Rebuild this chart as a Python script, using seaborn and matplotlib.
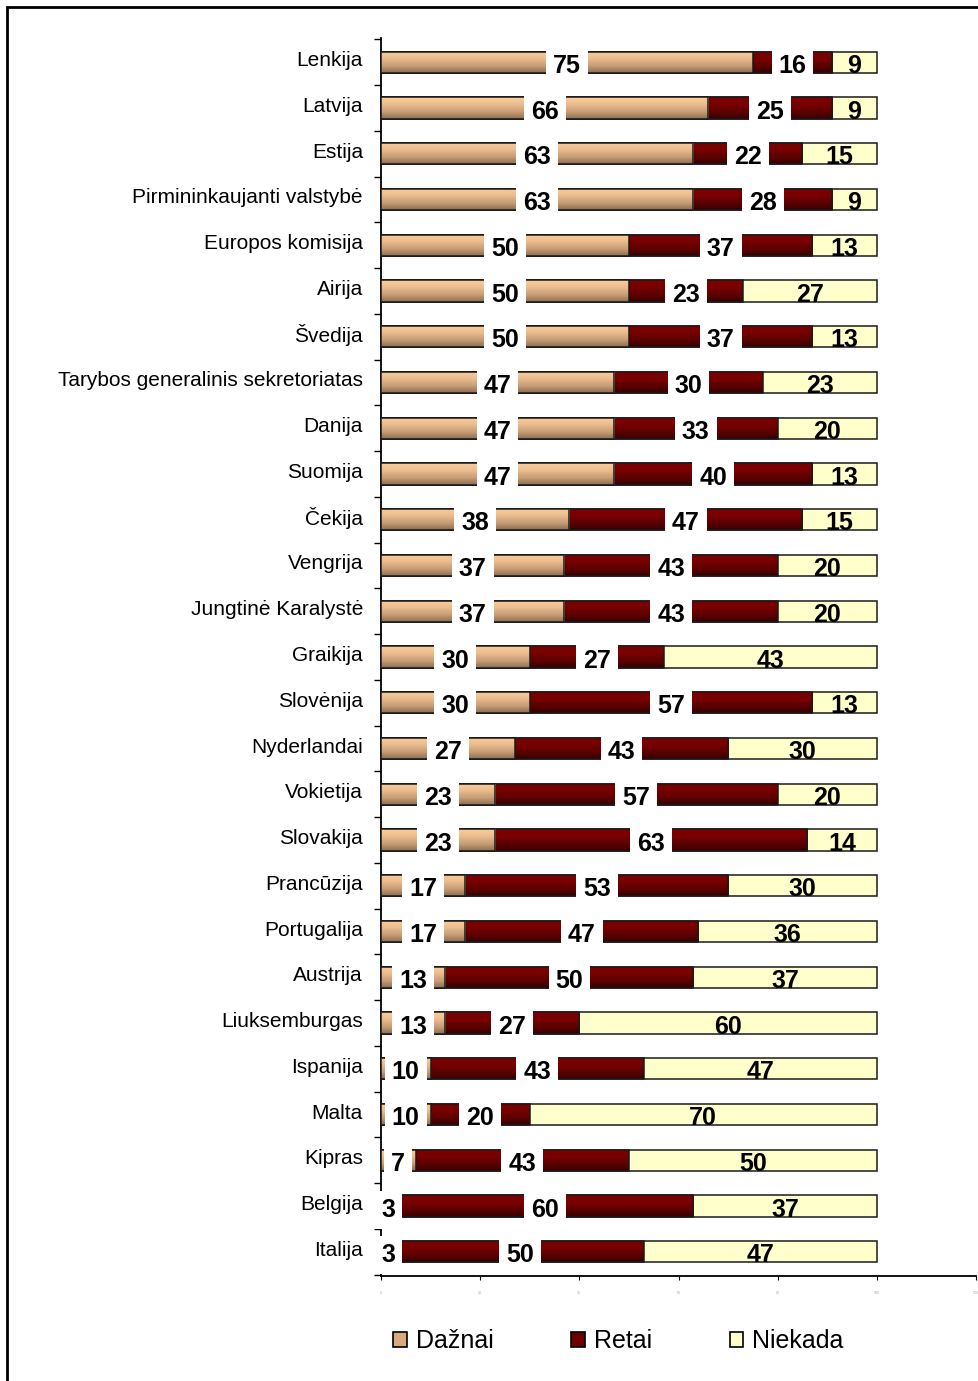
import numpy as np
import pandas as pd
import matplotlib
matplotlib.use("Agg")
import matplotlib.pyplot as plt
import seaborn as sns
from matplotlib.colors import LinearSegmentedColormap
from matplotlib.patches import Patch, Rectangle
from matplotlib.transforms import ScaledTranslation

countries = [
    "Lenkija", "Latvija", "Estija", "Pirmininkaujanti valstybė", "Europos komisija",
    "Airija", "Švedija", "Tarybos generalinis sekretoriatas", "Danija", "Suomija",
    "Čekija", "Vengrija", "Jungtinė Karalystė", "Graikija", "Slovėnija",
    "Nyderlandai", "Vokietija", "Slovakija", "Prancūzija", "Portugalija",
    "Austrija", "Liuksemburgas", "Ispanija", "Malta", "Kipras", "Belgija", "Italija",
]
daznai = [75, 66, 63, 63, 50, 50, 50, 47, 47, 47, 38, 37, 37, 30, 30, 27, 23, 23,
          17, 17, 13, 13, 10, 10, 7, 3, 3]
retai = [16, 25, 22, 28, 37, 23, 37, 30, 33, 40, 47, 43, 43, 27, 57, 43, 57, 63,
         53, 47, 50, 27, 43, 20, 43, 60, 50]
niekada = [9, 9, 15, 9, 13, 27, 13, 23, 20, 13, 15, 20, 20, 43, 13, 30, 20, 14,
           30, 36, 37, 60, 47, 70, 50, 37, 47]
series_names = ["Dažnai", "Retai", "Niekada"]
x_ticks = [0, 20, 40, 60, 80, 100, 120]

sns.set_style("white")
plt.rcParams["font.family"] = ["Liberation Sans", "DejaVu Sans"]
plt.rcParams["text.color"] = "black"
plt.rcParams["axes.edgecolor"] = "black"
plt.rcParams["xtick.color"] = "black"
plt.rcParams["ytick.color"] = "black"

W, H = 979, 1381
fig = plt.figure(figsize=(W / 100, H / 100), dpi=100)
ax = fig.add_axes([381 / W, 1 - 1276 / H, (976 - 381) / W, (1276 - 38) / H])

df = pd.DataFrame({"country": countries, "d": daznai, "r": retai, "n": niekada})
df["dr"] = df["d"] + df["r"]
df["total"] = df["dr"] + df["n"]

col_n = "#FFFFCC"
col_r = "#7A0000"
col_d = "#E8B98C"
bar_w = 0.46
edge = "#1a1a1a"

for col, c in [("total", col_n), ("dr", col_r), ("d", col_d)]:
    sns.barplot(data=df, x=col, y="country", orient="h", color=c, saturation=1,
                width=bar_w, edgecolor=edge, linewidth=1.1, errorbar=None, ax=ax)

n = len(countries)
patches = ax.patches
grad_d = LinearSegmentedColormap.from_list("gd", ["#FDCE9C", "#EBBC8E", "#C89E76", "#8C6E52"])
grad_r = LinearSegmentedColormap.from_list("gr", ["#800000", "#780000", "#5E0000", "#360000"])
g = np.linspace(0, 1, 64).reshape(-1, 1)
for layer, cmap, z in [(1, grad_r, 2), (2, grad_d, 3)]:
    for p in patches[layer * n:(layer + 1) * n]:
        x0, y0, w, h = p.get_x(), p.get_y(), p.get_width(), p.get_height()
        im = ax.imshow(g, extent=(x0, x0 + w, y0 + h, y0), aspect="auto", cmap=cmap,
                       interpolation="bilinear", zorder=z)
        im.set_clip_path(p)
        p.set_facecolor("none")
        p.set_zorder(z + 0.05)
for p in patches[:n]:
    p.set_zorder(1)

ax.set_xlim(0, 120)
ax.set_ylim(n - 0.5 + 0.03, -0.5 - 0.03)

# value labels
dy = 0.08
for i in range(n):
    d, r, nk = daznai[i], retai[i], niekada[i]
    bb = dict(boxstyle="square,pad=0.28", facecolor="white", edgecolor="none")
    ax.text(d / 2, i + dy, str(d), ha="center", va="center", fontsize=18,
            fontweight="bold", bbox=bb, zorder=6)
    ax.text(d + r / 2, i + dy, str(r), ha="center", va="center", fontsize=18,
            fontweight="bold", bbox=bb, zorder=6)
    ax.text(d + r + nk / 2, i + dy, str(nk), ha="center", va="center", fontsize=18,
            fontweight="bold", zorder=6)

ax.set_xlabel("")
ax.set_ylabel("")
for s in ["top", "right"]:
    ax.spines[s].set_visible(False)
ax.spines["left"].set_linewidth(1.3)
ax.spines["bottom"].set_linewidth(1.3)

ax.set_xticks(x_ticks)
ax.set_xticklabels([str(t) for t in x_ticks], fontsize=2.5, color="#aaaaaa")
ax.tick_params(axis="x", bottom=True, length=3, width=0.8, direction="out", pad=8)
ax.set_yticks(np.arange(-0.5, n, 1), minor=True)
ax.tick_params(axis="y", which="minor", left=True, length=5, width=1, direction="out")
ax.tick_params(axis="y", which="major", left=False, length=0, pad=13, labelsize=15)
shift = ScaledTranslation(0, 3.5 / 100, fig.dpi_scale_trans)
for lab in ax.get_yticklabels():
    lab.set_transform(lab.get_transform() + shift)

handles = [
    Patch(facecolor="#D9AA7E", edgecolor="black", linewidth=1.2),
    Patch(facecolor="#6A0000", edgecolor="black", linewidth=1.2),
    Patch(facecolor="#FFFFCC", edgecolor="black", linewidth=1.2),
]
fig.legend(handles, series_names, loc="center", bbox_to_anchor=(618.5 / W, 1 - 1341 / H),
           ncol=3, frameon=False, fontsize=18, handlelength=0.55, handleheight=0.55,
           handletextpad=0.36, columnspacing=3.1)

fig.patches.append(Rectangle((7 / W, -0.1), 1.2, 1.1 - 7 / H, transform=fig.transFigure,
                             fill=False, edgecolor="black", linewidth=2, zorder=10))

fig.savefig("out.png", dpi=100)
